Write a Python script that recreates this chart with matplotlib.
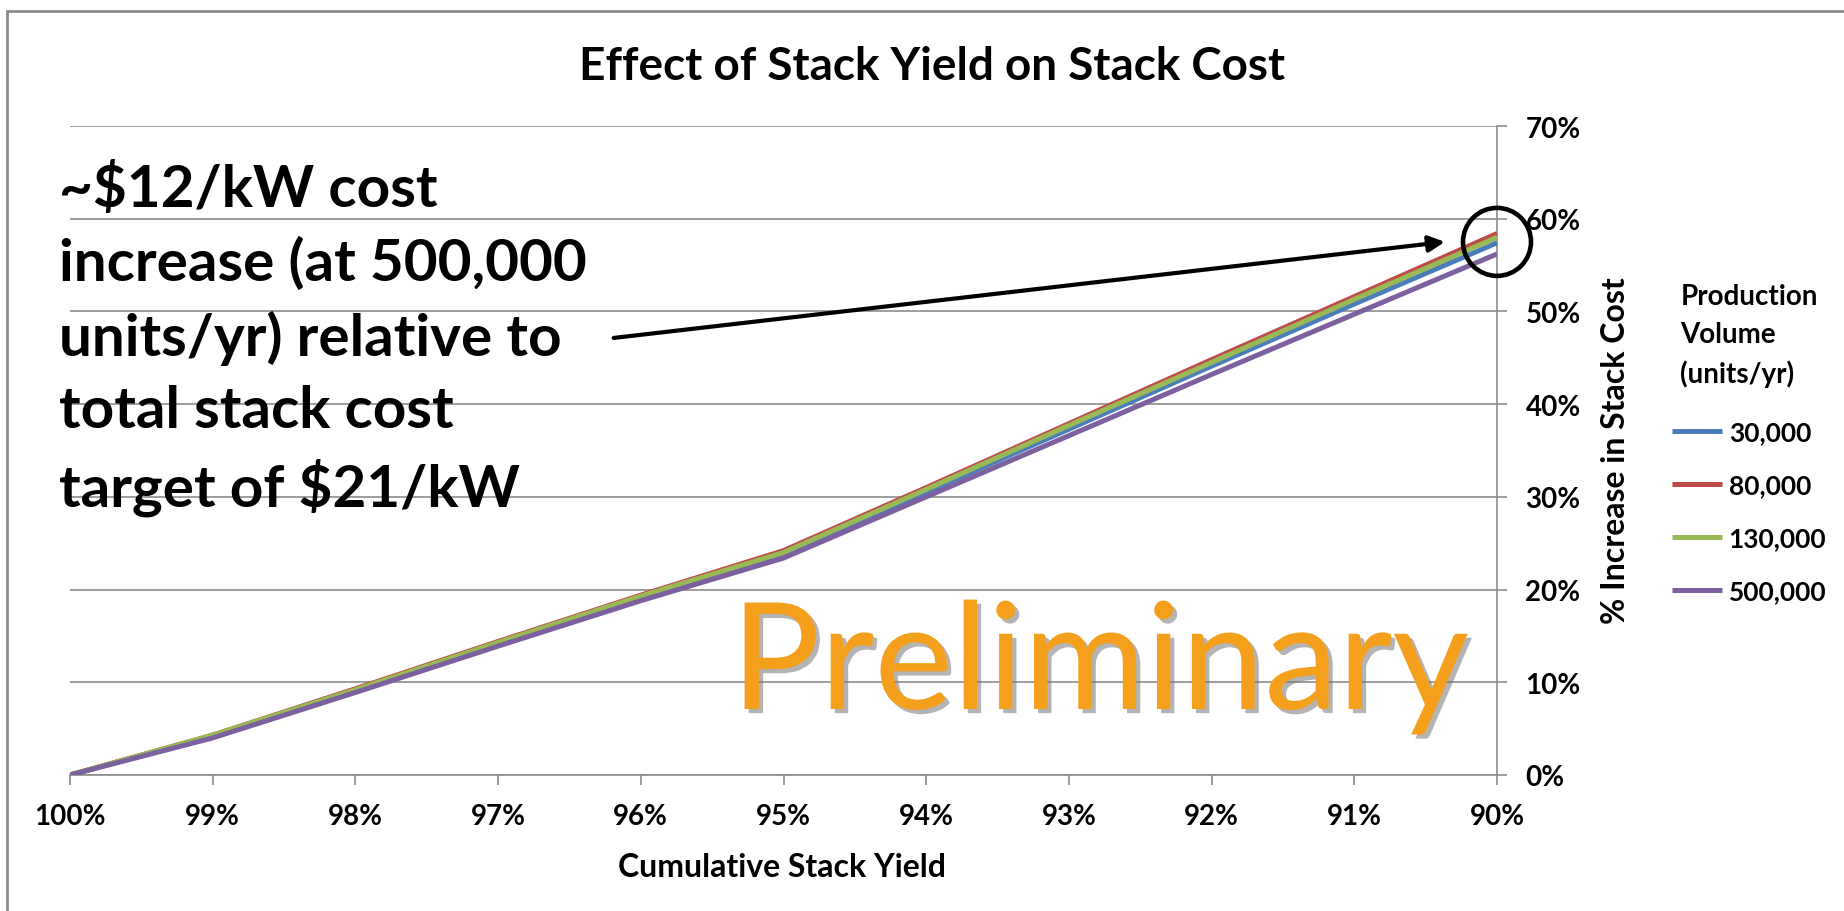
import numpy as np
import matplotlib
matplotlib.use("Agg")
import matplotlib.pyplot as plt
import matplotlib.patheffects as pe
from matplotlib.patches import Ellipse, Rectangle
from matplotlib.ticker import PercentFormatter

# data
yield_labels = ["100%", "99%", "98%", "97%", "96%", "95%",
                "94%", "93%", "92%", "91%", "90%"]
series_names = ["30,000", "80,000", "130,000", "500,000"]
vol_30k = [0.0, 4.2, 9.1, 14.1, 19.0, 23.8, 30.5, 37.3, 44.1, 50.8, 57.4]
vol_80k = [0.0, 4.3, 9.3, 14.4, 19.4, 24.2, 31.0, 37.9, 44.8, 51.6, 58.4]
vol_130k = [0.0, 4.3, 9.2, 14.3, 19.3, 24.0, 30.8, 37.7, 44.5, 51.3, 58.0]
vol_500k = [0.0, 4.0, 8.9, 13.9, 18.8, 23.4, 30.0, 36.6, 43.2, 49.7, 56.2]
colors = ["#4A7EBB", "#BE4B48", "#98B954", "#7D60A0"]

plt.rcParams['font.family'] = ['Lato', 'DejaVu Sans']
grey = "#8c8c8c"

fig = plt.figure(figsize=(18.44, 9.12), dpi=100)
fig.patch.set_facecolor('white')
ax = fig.add_axes([70/1844, 1 - 776/912, 1427/1844, 649/912])

x = np.arange(len(yield_labels))
lines = []
for vals, name, c in zip([vol_30k, vol_80k, vol_130k, vol_500k], series_names, colors):
    ln, = ax.plot(x, np.array(vals) / 100, color=c, lw=3.6, label=name,
                  solid_capstyle='butt', zorder=3)
    lines.append(ln)

ax.set_xlim(0, len(x) - 1)
ax.set_ylim(0, 0.7)
ax.set_xticks(x)
ax.set_xticklabels(yield_labels)
ax.set_yticks(np.arange(0, 0.71, 0.1))
ax.yaxis.set_major_formatter(PercentFormatter(1.0, decimals=0))
ax.yaxis.tick_right()
ax.yaxis.set_label_position('right')
ax.tick_params(axis='both', direction='out', length=7.5, width=1.2, color=grey,
               labelsize=20, pad=13)
for lab in ax.get_xticklabels() + ax.get_yticklabels():
    lab.set_fontweight('bold')
ax.grid(axis='y', color=grey, lw=1.2, zorder=0)
ax.set_axisbelow(True)
for s in ['left', 'top']:
    ax.spines[s].set_visible(False)
for s in ['bottom', 'right']:
    ax.spines[s].set_color(grey)
    ax.spines[s].set_linewidth(1.2)

ax.set_xlabel("Cumulative Stack Yield", fontsize=23, fontweight='bold')
ax.xaxis.set_label_coords(0.499, -0.118)
ax.set_ylabel("% Increase in Stack Cost", fontsize=23, fontweight='bold')
ax.yaxis.set_label_coords(1.073, 0.502)

fig.text(932/1844, 1 - 67/912, "Effect of Stack Yield on Stack Cost",
         ha='center', va='center', fontsize=33, fontweight='bold')

leg = fig.legend(handles=lines, loc='upper left',
                 bbox_to_anchor=(1672/1844, 1 - 284/912),
                 frameon=False, fontsize=19, borderpad=0, borderaxespad=0,
                 handlelength=1.9, handletextpad=0.25, labelspacing=1.1,
                 title="Production\nVolume\n(units/yr)",
                 title_fontproperties={'size': 20, 'weight': 'bold'})
leg.get_title().set_linespacing(1.55)
leg._legend_box.sep = 24
for t in leg.get_texts():
    t.set_fontweight('bold')

# annotation block
fig.text(59/1844, 1 - 340/912,
         "~$12/kW cost\nincrease (at 500,000\nunits/yr) relative to\ntotal stack cost\ntarget of $21/kW",
         ha='left', va='center', fontsize=42, fontweight='bold', linespacing=1.44)

# circle round the end points, arrow pointing at it
cx = x[-1]
cy = np.mean([vol_30k[-1], vol_80k[-1], vol_130k[-1], vol_500k[-1]]) / 100
circ = Ellipse((cx, cy), width=68/142.7, height=68/927, fill=False,
               ec='black', lw=3.3, clip_on=False, zorder=5)
ax.add_patch(circ)
ax.annotate("", xy=(cx - 0.365, cy), xytext=(3.81, 0.4714),
            arrowprops=dict(arrowstyle='-|>', color='black', lw=3,
                            mutation_scale=24, shrinkA=0, shrinkB=0),
            zorder=5, annotation_clip=False)

fig.text(731/1844, 1 - 710/912, "Preliminary", ha='left', va='baseline',
         fontsize=107, color='#F5A01C',
         path_effects=[pe.withSimplePatchShadow(offset=(3, -3),
                                                shadow_rgbFace='#777777', alpha=0.55)])

# outer frame
fig.add_artist(Rectangle((7/1844, -0.1), 1.2, 1.1 - 12/912,
                         transform=fig.transFigure, fill=False,
                         ec=grey, lw=2))

fig.savefig("out.png", dpi=100)
